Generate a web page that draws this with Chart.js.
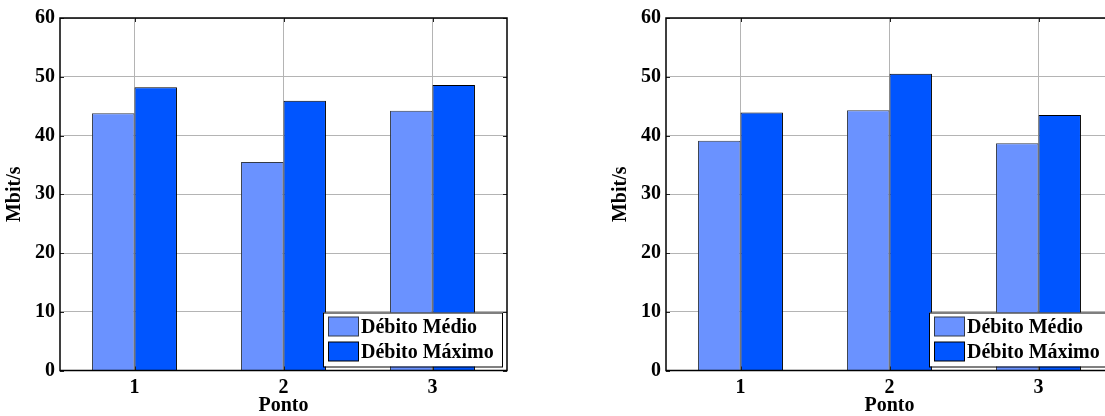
<!DOCTYPE html>
<html>
<head>
<meta charset="utf-8">
<script src="https://cdn.jsdelivr.net/npm/chart.js@4.4.1/dist/chart.umd.min.js"></script>
<style>
  html, body { margin: 0; padding: 0; background: #fff; width: 1105px; height: 416px; overflow: hidden; }
  .box { position: absolute; top: 0; height: 418px; width: 512px; }
  #c1 { left: 0px; }
  #c2 { left: 606px; }
</style>
</head>
<body>
<div class="box" id="c1"><canvas id="chart1"></canvas></div>
<div class="box" id="c2"><canvas id="chart2"></canvas></div>
<script>
// ---- data ----
const categories = ['1', '2', '3'];
const seriesNames = ['Débito Médio', 'Débito Máximo'];
const leftMedio   = [43.8, 35.5, 44.2];
const leftMaximo  = [48.2, 45.9, 48.6];
const rightMedio  = [39.1, 44.3, 38.7];
const rightMaximo = [43.9, 50.5, 43.5];
const yTickValues = [0, 10, 20, 30, 40, 50, 60];
const xTitle = 'Ponto';
const yTitle = 'Mbit/s';

const colMedio = '#6A92FF';
const colMaximo = '#0055FF';
const FONT = "'Liberation Serif', 'Times New Roman', serif";

Chart.defaults.color = '#000';
Chart.defaults.font.family = FONT;

const framePlugin = {
  id: 'frame',
  afterDatasetsDraw(chart) {
    const {ctx, chartArea: a, scales} = chart;
    ctx.save();
    // inward ticks
    ctx.strokeStyle = '#222';
    ctx.lineWidth = 1;
    const tl = 4;
    yTickValues.forEach(v => {
      const y = Math.round(scales.y.getPixelForValue(v)) + 0.5;
      ctx.beginPath();
      ctx.moveTo(a.left, y); ctx.lineTo(a.left + tl, y);
      ctx.moveTo(a.right, y); ctx.lineTo(a.right - tl, y);
      ctx.stroke();
    });
    categories.forEach((c, i) => {
      const x = Math.round(scales.x.getPixelForValue(i)) + 0.5;
      ctx.beginPath();
      ctx.moveTo(x, a.bottom); ctx.lineTo(x, a.bottom - tl);
      ctx.moveTo(x, a.top); ctx.lineTo(x, a.top + tl);
      ctx.stroke();
    });
    ctx.strokeStyle = '#000';
    ctx.lineWidth = 1.5;
    ctx.strokeRect(a.left, a.top, a.right - a.left, a.bottom - a.top);
    ctx.restore();
  },
  afterDraw(chart) {
    const {ctx, chartArea: a} = chart;
    const w = 179, h = 54;
    const x0 = a.right - 5 - w, y0 = a.bottom - 4 - h;
    ctx.save();
    ctx.fillStyle = '#fff';
    ctx.fillRect(x0, y0, w, h);
    ctx.strokeStyle = '#000';
    ctx.lineWidth = 1;
    ctx.strokeRect(x0 + 0.5, y0 + 0.5, w, h);
    const cols = [colMedio, colMaximo];
    const borders = ['#333a48', '#000'];
    ctx.font = 'bold 20px ' + FONT;
    ctx.textBaseline = 'middle';
    ctx.textAlign = 'left';
    seriesNames.forEach((name, i) => {
      const sy = y0 + 4.5 + i * 25;
      ctx.fillStyle = cols[i];
      ctx.fillRect(x0 + 5.5, sy, 30, 19);
      ctx.strokeStyle = borders[i];
      ctx.strokeRect(x0 + 5.5, sy, 30, 19);
      ctx.fillStyle = '#000';
      ctx.fillText(name, x0 + 38, sy + 10.5);
    });
    ctx.restore();
  }
};

function makeChart(id, medio, maximo) {
  return new Chart(document.getElementById(id), {
    type: 'bar',
    data: {
      labels: categories,
      datasets: [
        { label: seriesNames[0], data: medio, backgroundColor: colMedio, borderColor: '#333a48', borderWidth: 1 },
        { label: seriesNames[1], data: maximo, backgroundColor: colMaximo, borderColor: '#000', borderWidth: 1 }
      ]
    },
    options: {
      responsive: true,
      maintainAspectRatio: false,
      devicePixelRatio: 1,
      animation: false,
      datasets: { bar: { categoryPercentage: 0.57, barPercentage: 1.0 } },
      layout: { padding: { top: 18, right: 5, left: 0, bottom: 0 } },
      plugins: { legend: { display: false }, tooltip: { enabled: false } },
      scales: {
        x: {
          offset: true,
          grid: { offset: false, color: '#b4b4b4', lineWidth: 1, drawTicks: false },
          border: { display: false },
          ticks: { font: { size: 20, weight: 'bold' }, padding: 5, maxRotation: 0 },
          title: { display: true, text: xTitle, font: { size: 20, weight: 'bold' }, padding: { top: 0, bottom: 0 } },
          afterFit(scale) { scale.height = 47.5; }
        },
        y: {
          min: 0, max: 60,
          afterBuildTicks(scale) { scale.ticks = yTickValues.map(v => ({ value: v })); },
          grid: { color: '#b4b4b4', lineWidth: 1, drawTicks: false },
          border: { display: false },
          ticks: { font: { size: 20, weight: 'bold' }, padding: 5 },
          title: { display: true, text: yTitle, font: { size: 20, weight: 'bold' }, padding: { top: 3, bottom: 0 } },
          afterFit(scale) { scale.width = 60; }
        }
      }
    },
    plugins: [framePlugin]
  });
}

makeChart('chart1', leftMedio, leftMaximo);
makeChart('chart2', rightMedio, rightMaximo);
</script>
</body>
</html>
